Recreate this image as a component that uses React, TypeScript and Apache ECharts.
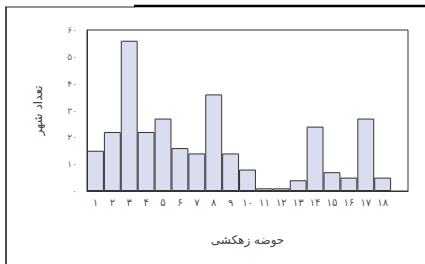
import React, { useEffect, useRef } from "react";
import * as echarts from "echarts";

const categories = ["۱","۲","۳","۴","۵","۶","۷","۸","۹","۱۰","۱۱","۱۲","۱۳","۱۴","۱۵","۱۶","۱۷","۱۸",""];
const counts = [15, 22, 56, 22, 27, 16, 14, 36, 14, 8, 1, 1, 4, 24, 7, 5, 27, 5, null];
const yTickLabels: Record<number, string> = { 0: "۰", 10: "۱۰", 20: "۲۰", 30: "۳۰", 40: "۴۰", 50: "۵۰", 60: "۶۰" };
const xAxisTitle = "حوضه زهکشی";
const yAxisTitle = "تعداد شهر";

export default function App() {
  const ref = useRef<HTMLDivElement>(null);
  useEffect(() => {
    document.body.style.margin = "0";
    const chart = echarts.init(ref.current!, null, { renderer: "svg" });
    chart.setOption({
      animation: false,
      backgroundColor: "#ffffff",
      grid: {
        left: 87, top: 30, right: 17, bottom: 73,
        show: true, borderColor: "#333", borderWidth: 1, backgroundColor: "transparent",
      },
      xAxis: {
        type: "category",
        data: categories,
        boundaryGap: true,
        axisLine: { show: true, lineStyle: { color: "#333", width: 1 } },
        axisTick: { show: false },
        axisLabel: { interval: 0, color: "#555", fontSize: 10, margin: 6, fontFamily: "DejaVu Sans" },
        name: xAxisTitle,
        nameLocation: "middle",
        nameGap: 43,
        nameTextStyle: { color: "#444", fontSize: 12, fontFamily: "DejaVu Sans" },
      },
      yAxis: {
        type: "value",
        min: 0, max: 60, interval: 10,
        splitLine: { show: false },
        axisLine: { show: true, lineStyle: { color: "#333", width: 1 } },
        axisTick: { show: false },
        axisLabel: {
          color: "#666", fontSize: 9, margin: 10, fontFamily: "DejaVu Sans",
          formatter: (v: number) => yTickLabels[v] ?? String(v),
        },
        name: yAxisTitle,
        nameLocation: "middle",
        nameGap: 43,
        nameTextStyle: { color: "#444", fontSize: 12, fontFamily: "DejaVu Sans" },
      },
      series: [{
        type: "bar",
        data: counts,
        barCategoryGap: "0%",
        itemStyle: { color: "#d9ddef", borderColor: "#333", borderWidth: 1 },
      }],
      graphic: [
        { type: "line", shape: { x1: 5, y1: 7, x2: 135, y2: 7 }, style: { stroke: "#222", lineWidth: 1 } },
        { type: "line", shape: { x1: 134, y1: 6, x2: 425, y2: 6 }, style: { stroke: "#000", lineWidth: 2.5 } },
        { type: "line", shape: { x1: 6, y1: 7, x2: 6, y2: 264 }, style: { stroke: "#111", lineWidth: 1.5 } },
      ],
    });
    return () => chart.dispose();
  }, []);
  return <div ref={ref} style={{ position: "absolute", left: 0, top: 0, width: 425, height: 264 }} />;
}
